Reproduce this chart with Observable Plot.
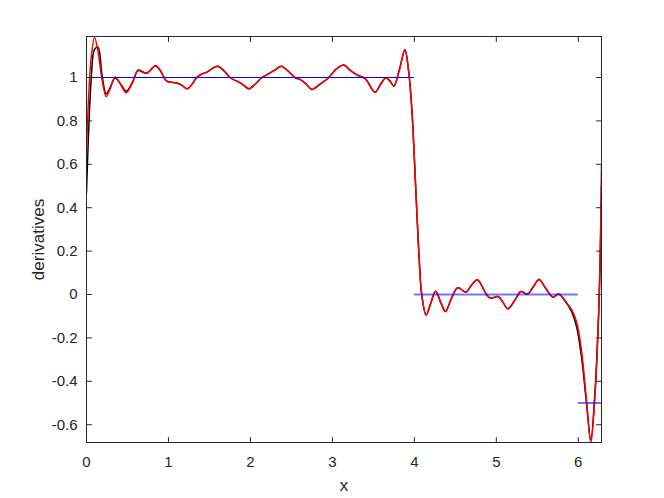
<!DOCTYPE html>
<html>
<head>
<meta charset="utf-8">
<script src="https://cdn.jsdelivr.net/npm/d3@7"></script>
<script src="https://cdn.jsdelivr.net/npm/@observablehq/plot@0.6"></script>
<style>
  html, body { margin: 0; padding: 0; background: #fff; }
  #chart { width: 664px; height: 498px; }
</style>
</head>
<body>
<div id="chart"></div>
<script>
const xs = [0, 0.016, 0.057, 0.098, 0.14, 0.19, 0.24, 0.29, 0.35, 0.42, 0.485, 0.56, 0.63, 0.73, 0.845, 0.92, 0.978, 1.10, 1.16, 1.23, 1.29, 1.345, 1.40, 1.47, 1.53, 1.60, 1.68, 1.75, 1.835, 1.90, 1.98, 2.06, 2.14, 2.22, 2.30, 2.375, 2.46, 2.545, 2.61, 2.68, 2.75, 2.85, 2.95, 3.05, 3.14, 3.21, 3.30, 3.40, 3.52, 3.59, 3.65, 3.70, 3.75, 3.82, 3.885, 3.93, 3.97, 4.02, 4.06, 4.09, 4.144, 4.20, 4.26, 4.32, 4.38, 4.45, 4.53, 4.63, 4.70, 4.77, 4.83, 4.88, 4.93, 5.02, 5.08, 5.14, 5.22, 5.30, 5.38, 5.45, 5.52, 5.60, 5.69, 5.76, 5.84, 5.92, 5.98, 6.04, 6.10, 6.153, 6.20, 6.24, 6.265, 6.283];
// red approximation
const redY = [0.63, 0.83, 1.09, 1.186, 1.12, 0.99, 0.912, 0.95, 1.002, 0.965, 0.93, 0.975, 1.035, 1.02, 1.055, 1.02, 0.983, 0.975, 0.965, 0.948, 0.97, 1.0, 1.015, 1.025, 1.04, 1.052, 1.03, 1.0, 0.983, 0.97, 0.948, 0.97, 1.0, 1.017, 1.035, 1.052, 1.03, 1.0, 0.99, 0.97, 0.945, 0.97, 0.998, 1.04, 1.058, 1.035, 1.012, 0.995, 0.932, 0.97, 0.998, 0.985, 0.96, 1.04, 1.128, 1.03, 0.85, 0.464, 0.157, 0.0, -0.095, -0.04, 0.015, -0.035, -0.078, -0.02, 0.031, 0.011, 0.045, 0.068, 0.035, 0.0, -0.017, -0.009, -0.035, -0.066, -0.03, 0.014, 0.002, 0.035, 0.069, 0.03, -0.012, 0.002, -0.03, -0.071, -0.127, -0.26, -0.488, -0.685, -0.488, -0.18, 0.15, 0.6];
// black approximation
const blackY = [0.47, 0.65, 0.99, 1.13, 1.14, 1.01, 0.925, 0.955, 0.998, 0.968, 0.937, 0.977, 1.032, 1.02, 1.053, 1.02, 0.983, 0.975, 0.965, 0.948, 0.97, 1.0, 1.015, 1.025, 1.04, 1.052, 1.03, 1.0, 0.983, 0.97, 0.948, 0.97, 1.0, 1.017, 1.035, 1.052, 1.03, 1.0, 0.99, 0.97, 0.945, 0.97, 0.998, 1.04, 1.058, 1.035, 1.012, 0.995, 0.932, 0.97, 0.998, 0.985, 0.96, 1.04, 1.128, 1.03, 0.85, 0.464, 0.157, 0.0, -0.095, -0.04, 0.015, -0.035, -0.078, -0.02, 0.031, 0.011, 0.045, 0.068, 0.035, 0.0, -0.017, -0.009, -0.035, -0.066, -0.03, 0.014, 0.002, 0.035, 0.069, 0.03, -0.012, 0.002, -0.03, -0.08, -0.15, -0.29, -0.50, -0.67, -0.47, -0.17, 0.12, 0.5];
// exact piecewise derivative
const stepStarts = [0, 4, 6];
const stepEnds = [4, 6, 2 * Math.PI];
const stepValues = [1, 0, -0.5];
// ticks
const xTicks = [0, 1, 2, 3, 4, 5, 6];
const xTickLabels = ["0", "1", "2", "3", "4", "5", "6"];
const yTicks = [-0.6, -0.4, -0.2, 0, 0.2, 0.4, 0.6, 0.8, 1];
const yTickLabels = ["-0.6", "-0.4", "-0.2", "0", "0.2", "0.4", "0.6", "0.8", "1"];
const xLabel = "x";
const yLabel = "derivatives";

const ink = "#262626";
const font = "'Liberation Sans', Arial, Helvetica, sans-serif";

const idx = xs.map((_, i) => i);
const steps = stepValues.map((v, i) => ({v, a: stepStarts[i], b: stepEnds[i]}));

const tickUp = {draw(ctx, l) { ctx.moveTo(0, 0); ctx.lineTo(0, -l); }};
const tickLen = 5;

const chart = Plot.plot({
  width: 664,
  height: 498,
  marginLeft: 86,
  marginRight: 63,
  marginTop: 36,
  marginBottom: 56,
  style: {fontFamily: font, background: "#fff", color: ink},
  x: {domain: [0, 2 * Math.PI]},
  y: {domain: [-0.682, 1.189]},
  marks: [
    Plot.line(idx, {x: i => xs[i], y: i => blackY[i], stroke: "#000", strokeWidth: 1.5, curve: "catmull-rom", clip: true}),
    Plot.line(idx, {x: i => xs[i], y: i => redY[i], stroke: "#ff0000", strokeWidth: 1.5, curve: "catmull-rom", clip: true}),
    Plot.ruleY(steps, {filter: (d, i) => i === 0, y: "v", x1: "a", x2: "b", stroke: "#0000ee", strokeWidth: 1}),
    Plot.ruleY(steps, {filter: (d, i) => i > 0, y: "v", x1: "a", x2: "b", stroke: "#0000ff", strokeOpacity: 0.55, strokeWidth: 2}),
    Plot.frame({stroke: ink, strokeWidth: 1}),
    // inward ticks
    Plot.vector(xTicks, {x: d => d, frameAnchor: "bottom", length: tickLen, shape: tickUp, anchor: "start", stroke: ink, strokeWidth: 1}),
    Plot.vector(xTicks, {x: d => d, frameAnchor: "top", length: tickLen, shape: tickUp, rotate: 180, anchor: "start", stroke: ink, strokeWidth: 1}),
    Plot.vector(yTicks, {y: d => d, frameAnchor: "left", length: tickLen, shape: tickUp, rotate: 90, anchor: "start", stroke: ink, strokeWidth: 1}),
    Plot.vector(yTicks, {y: d => d, frameAnchor: "right", length: tickLen, shape: tickUp, rotate: -90, anchor: "start", stroke: ink, strokeWidth: 1}),
    // tick labels
    Plot.axisX(xTicks, {anchor: "bottom", tickSize: 0, tickPadding: 14, tickFormat: (d, i) => xTickLabels[i], label: null, fontSize: 15, fill: ink}),
    Plot.axisY(yTicks, {anchor: "left", tickSize: 0, tickPadding: 9, tickFormat: (d, i) => yTickLabels[i], label: null, fontSize: 15, fill: ink}),
    // axis labels
    Plot.text([xLabel], {frameAnchor: "bottom", textAnchor: "middle", lineAnchor: "middle", dy: 43, fontSize: 17, fill: ink}),
    Plot.text([yLabel], {frameAnchor: "left", textAnchor: "middle", lineAnchor: "middle", dx: -48, rotate: -90, fontSize: 17, fill: ink})
  ]
});
document.getElementById("chart").appendChild(chart);
</script>
</body>
</html>
